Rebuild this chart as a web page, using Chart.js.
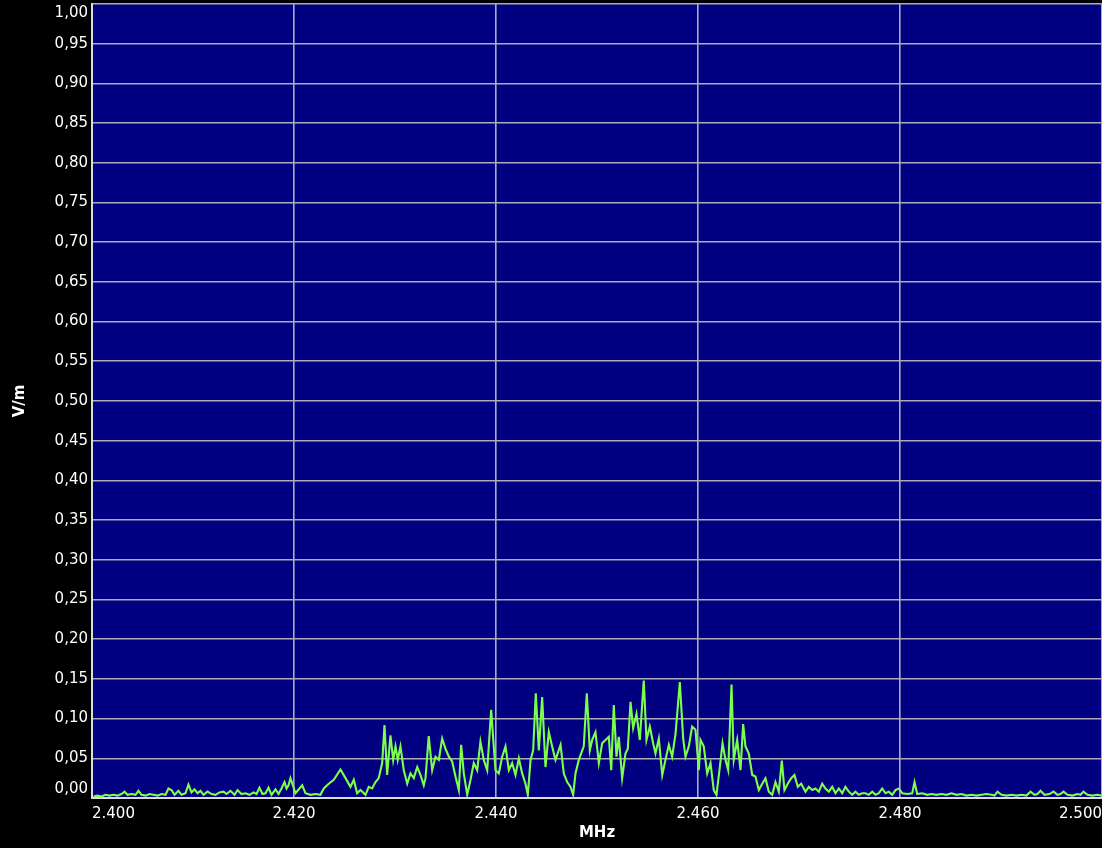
<!DOCTYPE html>
<html><head><meta charset="utf-8">
<script src="https://cdn.jsdelivr.net/npm/chart.js@4/dist/chart.umd.min.js"></script>
<style>html,body{margin:0;padding:0;background:#000;overflow:hidden}#wrap{width:1102px;height:848px;position:relative}</style>
</head><body><div id="wrap"><canvas id="c"></canvas></div>
<script>
const freqMHz = [
2.40015,2.40054,2.40094,2.40134,2.40173,2.40213,2.40252,2.40292,2.40322,2.40351,
2.40391,2.40431,2.40460,2.40490,2.40530,2.40569,2.40609,2.40649,2.40688,2.40728,
2.40757,2.40787,2.40817,2.40856,2.40886,2.40926,2.40955,2.40985,2.41015,2.41045,
2.41074,2.41104,2.41144,2.41183,2.41223,2.41262,2.41302,2.41332,2.41371,2.41411,
2.41441,2.41480,2.41520,2.41559,2.41599,2.41629,2.41658,2.41688,2.41718,2.41748,
2.41777,2.41817,2.41847,2.41876,2.41906,2.41926,2.41946,
2.41965,2.42015,2.42081,2.42114,2.42163,2.42213,2.42262,2.42295,2.42344,2.42394,
2.42460,2.42510,2.42559,2.42592,2.42625,2.42658,2.42708,2.42740,2.42774,2.42807,
2.42839,2.42873,2.42896,2.42922,2.42955,2.42982,2.43005,2.43027,2.43054,2.43087,
2.43121,2.43153,2.43186,2.43220,2.43252,2.43285,2.43302,2.43334,2.43368,2.43401,
2.43434,2.43467,2.43500,2.43533,2.43566,2.43599,2.43632,2.43655,2.43681,2.43715,
2.43748,2.43780,2.43814,2.43846,2.43879,2.43913,2.43952,
2.43995,2.44028,2.44061,2.44094,2.44127,2.44160,2.44193,2.44226,2.44259,2.44292,
2.44315,2.44342,2.44368,2.44394,2.44424,2.44457,2.44490,2.44523,2.44556,2.44589,
2.44639,2.44671,2.44705,2.44738,2.44764,2.44787,2.44820,2.44869,2.44899,2.44929,
2.44952,2.44985,2.45018,2.45051,2.45084,2.45117,2.45141,2.45166,2.45193,2.45216,
2.45249,2.45282,2.45305,2.45332,2.45358,2.45391,2.45424,2.45463,2.45490,2.45523,
2.45556,2.45579,2.45612,2.45646,2.45678,2.45711,2.45744,2.45777,2.45820,2.45853,
2.45876,2.45909,2.45942,2.45975,2.46008,
2.46025,2.46057,2.46091,2.46124,2.46156,2.46183,2.46216,2.46243,2.46272,2.46299,
2.46332,2.46354,2.46388,2.46421,2.46447,2.46470,2.46503,2.46537,2.46569,2.46602,
2.46636,2.46668,2.46701,2.46735,2.46767,2.46800,2.46830,2.46856,2.46889,2.46923,
2.46955,2.46988,2.47022,2.47064,2.47097,2.47131,2.47163,2.47196,2.47230,2.47262,
2.47295,2.47329,2.47361,2.47394,2.47428,2.47460,2.47493,2.47527,2.47559,2.47592,
2.47626,2.47658,2.47691,2.47725,2.47757,2.47790,2.47824,2.47856,2.47889,2.47923,
2.47955,2.47988,2.48022,2.48071,2.48121,2.48144,2.48170,2.48220,2.48269,
2.48312,2.48361,2.48411,2.48460,2.48510,2.48559,2.48609,2.48658,2.48708,2.48757,
2.48807,2.48856,2.48906,2.48936,2.48965,2.49005,2.49054,2.49104,2.49153,2.49203,
2.49252,2.49292,2.49332,2.49361,2.49391,2.49431,2.49480,2.49520,2.49559,2.49589,
2.49619,2.49658,2.49708,2.49757,2.49787,2.49817,2.49856,2.49906,2.49955,2.49995
];
const fieldVm = [
0.002,0.003,0.002,0.004,0.003,0.004,0.003,0.005,0.008,0.004,
0.005,0.004,0.009,0.004,0.003,0.005,0.004,0.003,0.005,0.004,
0.012,0.010,0.004,0.009,0.004,0.006,0.017,0.007,0.011,0.006,
0.009,0.004,0.008,0.005,0.004,0.007,0.008,0.005,0.009,0.004,
0.010,0.005,0.006,0.004,0.007,0.005,0.013,0.005,0.006,0.013,
0.004,0.011,0.005,0.012,0.020,0.012,0.016,
0.025,0.006,0.016,0.006,0.004,0.005,0.004,0.012,0.018,0.023,
0.036,0.025,0.014,0.023,0.006,0.010,0.004,0.014,0.012,0.020,
0.025,0.044,0.092,0.029,0.079,0.048,0.065,0.048,0.065,0.035,
0.018,0.031,0.025,0.039,0.029,0.016,0.025,0.078,0.035,0.052,
0.048,0.075,0.062,0.052,0.046,0.027,0.010,0.067,0.031,0.004,
0.023,0.044,0.035,0.071,0.048,0.035,0.111,
0.035,0.031,0.052,0.065,0.035,0.044,0.029,0.050,0.031,0.018,
0.004,0.048,0.060,0.132,0.060,0.127,0.039,0.083,0.065,0.048,
0.067,0.031,0.020,0.014,0.004,0.031,0.048,0.065,0.132,0.060,
0.073,0.083,0.044,0.069,0.073,0.077,0.035,0.117,0.052,0.077,
0.025,0.056,0.062,0.121,0.088,0.106,0.073,0.148,0.073,0.090,
0.069,0.056,0.075,0.029,0.048,0.067,0.052,0.080,0.146,0.075,
0.052,0.065,0.090,0.086,0.035,
0.073,0.065,0.031,0.044,0.010,0.004,0.039,0.069,0.048,0.035,
0.143,0.048,0.073,0.035,0.093,0.065,0.056,0.029,0.027,0.010,
0.018,0.025,0.008,0.004,0.020,0.008,0.047,0.010,0.018,0.025,
0.029,0.014,0.018,0.008,0.014,0.010,0.012,0.008,0.018,0.012,
0.008,0.014,0.006,0.012,0.006,0.014,0.008,0.004,0.008,0.004,
0.006,0.006,0.004,0.008,0.004,0.006,0.012,0.006,0.008,0.004,
0.010,0.012,0.006,0.005,0.006,0.020,0.005,0.006,0.004,
0.005,0.004,0.005,0.004,0.006,0.004,0.005,0.003,0.004,0.003,
0.004,0.005,0.004,0.003,0.008,0.004,0.003,0.004,0.003,0.004,
0.003,0.008,0.004,0.005,0.009,0.004,0.005,0.008,0.004,0.005,
0.008,0.004,0.003,0.005,0.004,0.008,0.004,0.003,0.004,0.003
];
const xTickLabels = ['2.400','2.420','2.440','2.460','2.480','2.500'];
const yTickLabels = ['0,00','0,05','0,10','0,15','0,20','0,25','0,30','0,35','0,40','0,45','0,50',
  '0,55','0,60','0,65','0,70','0,75','0,80','0,85','0,90','0,95','1,00'];
const xTitle = 'MHz';
const yTitle = 'V/m';

const points = freqMHz.map((f, i) => ({x: f, y: fieldVm[i]}));
const FONT = 'DejaVu Sans';

const bgPlugin = {
  id: 'bg',
  beforeDraw(chart) {
    const {ctx, chartArea: a} = chart;
    ctx.save();
    ctx.fillStyle = '#000';
    ctx.fillRect(0, 0, chart.width, chart.height);
    ctx.fillStyle = '#000080';
    ctx.fillRect(a.left, a.top, a.right - a.left, a.bottom - a.top);
    ctx.restore();
  }
};

new Chart(document.getElementById('c'), {
  type: 'line',
  data: { datasets: [{
    data: points,
    borderColor: '#7dff4a',
    borderWidth: 2.1,
    pointRadius: 0,
    tension: 0,
    fill: false
  }]},
  options: {
    responsive: true,
    maintainAspectRatio: false,
    animation: false,
    layout: { padding: { top: 4, left: 0, right: 0, bottom: 0 } },
    plugins: { legend: { display: false }, tooltip: { enabled: false } },
    scales: {
      x: {
        type: 'linear', min: 2.4, max: 2.5,
        afterFit(s) { s.height = 50; s.paddingLeft = 0; s.paddingRight = 0; },
        grid: { color: '#acacbc', lineWidth: 1.6, drawTicks: false },
        border: { display: true, color: '#dcdcdc', width: 2 },
        ticks: {
          stepSize: 0.02, align: 'inner', padding: 7, color: '#fff', maxRotation: 0, autoSkip: false,
          font: { family: FONT, size: 15 },
          callback: (v, i) => xTickLabels[i]
        },
        title: { display: true, text: xTitle, color: '#fff', padding: { top: 0, bottom: 6 },
          font: { family: FONT, size: 15, weight: 'bold' } }
      },
      y: {
        type: 'linear', min: 0, max: 1,
        afterFit(s) { s.width = 92; s.paddingTop = 0; s.paddingBottom = 0; },
        grid: { color: '#acacbc', lineWidth: 1.6, drawTicks: false },
        border: { display: true, color: '#dcdcdc', width: 2 },
        ticks: {
          stepSize: 0.05, padding: 4, color: '#fff', autoSkip: false,
          font: { family: FONT, size: 15 },
          callback: (v, i, t) => {
            const l = yTickLabels[i];
            if (i === 0) return [l, ''];
            if (i === t.length - 1) return ['', l];
            return l;
          }
        },
        title: { display: true, text: yTitle, color: '#fff', padding: { top: 11, bottom: 0 },
          font: { family: FONT, size: 15, weight: 'bold' } }
      }
    }
  },
  plugins: [bgPlugin]
});
</script>
</body></html>
